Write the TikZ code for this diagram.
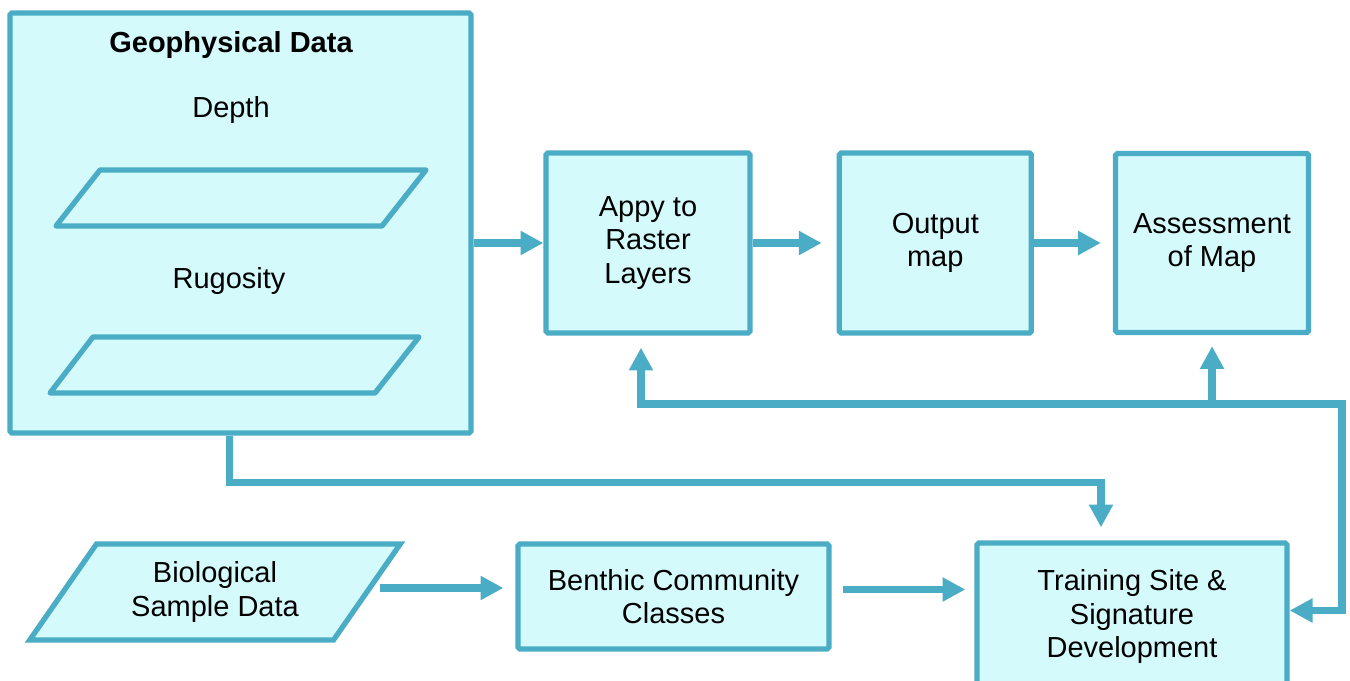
\documentclass[tikz,border=0pt]{standalone}
\usepackage{fontspec}
\setmainfont{Liberation Sans}
\usetikzlibrary{arrows.meta,positioning,shapes.geometric,calc}
\definecolor{layerblue}{RGB}{75,172,198}
\definecolor{layerfill}{RGB}{212,250,252}

\begin{document}
\begin{tikzpicture}[
      font=\fontsize{16.5}{19}\selectfont,
      box/.style={rectangle, rounded corners=1pt, draw=layerblue, line width=3pt,
        fill=layerfill, align=center, inner sep=0pt},
      databox/.style={trapezium, trapezium left angle=52, trapezium right angle=128,
        trapezium stretches=true, draw=layerblue, line width=3pt, fill=layerfill,
        align=center, inner sep=0pt},
      layer/.style={draw=layerblue, line width=3pt, line join=round, fill=layerfill},
      title/.style={font=\fontsize{16.5}{19}\selectfont\bfseries},
      arr/.style={-{Triangle[length=13pt,width=13pt]}, line width=4.2pt, draw=layerblue},
      arrboth/.style={{Triangle[length=13pt,width=13pt]}-{Triangle[length=13pt,width=13pt]},
        line width=4.2pt, draw=layerblue},
    ]
    \useasboundingbox (0,0) rectangle (27,-13.6);

    % geophysical layers
    \node[box, minimum width=9.22cm, minimum height=8.4cm] (geo) at (4.81,-4.46) {};
    \node[title] (geotitle) at (4.62,-0.9) {Geophysical Data};
    \node (depthlbl) at (4.62,-2.2) {Depth};
    \draw[layer] (1.12,-4.52) -- (2.0,-3.4) -- (8.52,-3.4) -- (7.64,-4.52) -- cycle;
    \node (ruglbl) at (4.58,-5.62) {Rugosity};
    \draw[layer] (1.0,-7.86) -- (1.86,-6.74) -- (8.38,-6.74) -- (7.5,-7.86) -- cycle;

    % classification chain
    \node[box, minimum width=4.08cm, minimum height=3.6cm] (apply) at (12.96,-4.86) {Appy to\\Raster\\Layers};
    \node[box, minimum width=3.84cm, minimum height=3.6cm, right=1.68cm of apply] (output) {Output\\map};
    \node[box, minimum width=3.86cm, minimum height=3.58cm, right=1.58cm of output] (assess) {Assessment\\of Map};

    % field data
    \node[databox, minimum width=7.42cm, minimum height=1.92cm] (bio) at (4.3,-11.84) {Biological\\Sample Data};
    \node[box, minimum width=6.22cm, minimum height=2.1cm] (benthic) at (13.47,-11.93) {Benthic Community\\Classes};
    \node[box, minimum width=6.2cm, minimum height=2.94cm] (training) at (22.64,-12.33) {Training Site \&\\Signature\\Development};

    \coordinate (fbcorner) at (26.84,-8.08);

    \draw[arr] (apply.west -| geo.east) -- (apply.west);
    \draw[arr, shorten >=0.3cm] (apply.east) -- (apply.east -| output.west);
    \draw[arr, shorten >=0.24cm] (output.east) -- (output.east -| assess.west);
    \draw[arr, shorten <=0.2cm, shorten >=0.24cm] ([yshift=0.08cm]bio.east) -- ([yshift=0.08cm]bio.east -| benthic.west);
    \draw[arr, shorten <=0.22cm, shorten >=0.18cm] ([yshift=0.14cm]benthic.east) -- ([yshift=0.14cm]benthic.east -| training.west);
    \draw[arr, shorten >=0.26cm] ([xshift=-0.22cm]geo.south) -- ++(0,-0.94) -| ([xshift=-0.62cm]training.north);
    \draw[arrboth, shorten <=0.24cm] ([xshift=-0.14cm]apply.south) |- (fbcorner) |- ([yshift=0.12cm]training.east);
    \draw[arr, shorten >=0.22cm] (fbcorner -| assess.south) -- (assess.south);
  \end{tikzpicture}
\end{document}
